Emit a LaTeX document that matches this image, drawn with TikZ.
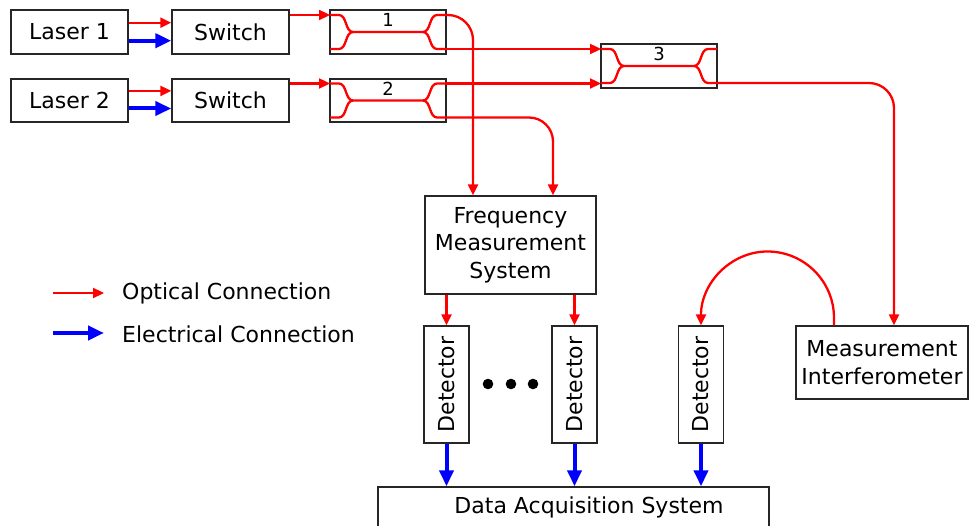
\documentclass[tikz,border=0pt]{standalone}
\usepackage{fontspec}
\usepackage{graphicx}
\setmainfont{DejaVu Sans}
\usetikzlibrary{arrows.meta,calc}
\begin{document}
\begin{tikzpicture}[x=1pt,y=-1pt,
  box/.style={draw=black!85, line width=1.4pt, inner sep=0pt, font=\fontsize{22}{27.5}\selectfont, align=center},
  opt/.style={draw=red, line width=2.3pt, -{Triangle[length=11pt,width=10pt]}},
  optl/.style={draw=red, line width=2.3pt},
  ele/.style={draw=blue, line width=4pt, -{Triangle[length=16pt,width=14pt]}},
  num/.style={font=\fontsize{18}{20}\selectfont, inner sep=0pt},
  leg/.style={font=\fontsize{22}{27.5}\selectfont, inner sep=0pt, anchor=west}]
\fill[white] (0,0) rectangle (970,526);
\useasboundingbox (0,0) rectangle (970,526);

% boxes
\node[box, minimum width=117, minimum height=44] (l1) at (69.5,32) {Laser 1};
\node[box, minimum width=117, minimum height=43] (l2) at (69.5,100.5) {Laser 2};
\node[box, minimum width=117, minimum height=44] (sw1) at (230.5,32) {Switch};
\node[box, minimum width=117, minimum height=43] (sw2) at (230.5,100.5) {Switch};
\node[box, minimum width=116, minimum height=44] (c1) at (388,32) {};
\node[box, minimum width=116, minimum height=43] (c2) at (388,100.5) {};
\node[box, minimum width=116, minimum height=44] (c3) at (659,66) {};
\node[num] (n1) at ($(c1.north)+(0,11)$) {1};
\node[num] (n2) at ($(c2.north)+(0,11)$) {2};
\node[num] (n3) at ($(c3.north)+(0,11)$) {3};
\node[box, minimum width=171, minimum height=98] (fms) at (510.5,245) {Frequency\\Measurement\\System};
\node[box, minimum width=45, minimum height=117] (d1) at (446.5,384.5) {\rotatebox{90}{Detector}};
\node[box, minimum width=45, minimum height=117] (d2) at (574.5,384.5) {\rotatebox{90}{Detector}};
\node[box, minimum width=45, minimum height=117] (d3) at (701,384.5) {\rotatebox{90}{Detector}};
\node[box, minimum width=172, minimum height=73] (mi) at (882,362.5) {Measurement\\Interferometer};
\node[box, minimum width=391, minimum height=58] (daq) at (573.5,516) {};
\node[leg, anchor=center] (daqt) at (589,507) {Data Acquisition System};

% dots
\foreach \xx in {488,511,533} \fill (\xx,384) circle[radius=5.3pt];

% couplers internal paths
\foreach \c in {c1,c2,c3} {
  \begin{scope}[shift={(\c.center)}]
    \coordinate (\c-lt) at (-58,-17);
    \coordinate (\c-lb) at (-58,17);
    \coordinate (\c-rt) at (58,-17);
    \coordinate (\c-rb) at (58,17);
    \draw[optl] (-58,-17) -- (-49,-17) .. controls (-41,-17) and (-43,0) .. (-35,0) -- (35,0) .. controls (43,0) and (41,-17) .. (49,-17) -- (58,-17);
    \draw[optl] (-58,17) -- (-49,17) .. controls (-41,17) and (-43,0) .. (-35,0);
    \draw[optl] (35,0) .. controls (43,0) and (41,17) .. (49,17) -- (58,17);
  \end{scope}
}

% laser -> switch
\draw[opt] ($(l1.east)+(0,-9.3)$) -- ($(sw1.west)+(0,-9.3)$);
\draw[ele] ($(l1.east)+(0,8.7)$) -- ($(sw1.west)+(0,8.7)$);
\draw[opt] ($(l2.east)+(0,-9.6)$) -- ($(sw2.west)+(0,-9.6)$);
\draw[ele] ($(l2.east)+(0,8)$) -- ($(sw2.west)+(0,8)$);

% switch -> couplers
\draw[opt] (sw1.east |- c1-lt) -- (c1-lt);
\draw[opt] (sw2.east |- c2-lt) -- (c2-lt);

% couplers -> coupler 3
\draw[opt] (c1-rb) -- (c3-lt);
\draw[opt] (c2-rt) -- (c3-lb |- c2-rt);

% couplers -> FMS / MI
\draw[opt, rounded corners=25pt] (c1-rt) -| ($(fms.north)+(-37.5,0)$);
\draw[opt, rounded corners=24pt] (c2-rb) -| ($(fms.north)+(42.5,0)$);
\draw[opt, rounded corners=25pt] (c3-rb) -| ($(mi.north)+(12,0)$);

% FMS -> detectors
\draw[opt] (fms.south -| d1.north) -- (d1.north);
\draw[opt] (fms.south -| d2.north) -- (d2.north);

% detectors -> DAQ
\draw[ele] (d1.south) -- (d1.south |- daq.north);
\draw[ele] (d2.south) -- (d2.south |- daq.north);
\draw[ele] (d3.south) -- (d3.south |- daq.north);

% MI -> detector 3
\coordinate (arcA) at ($(mi.north)+(-48,0)$);
\draw[opt] (arcA) -- (834,318) .. controls (834,281.3) and (804.2,251.5) .. (767.5,251.5) .. controls (730.8,251.5) and (701,283) .. (d3.north);

% legend
\coordinate (lo1) at (53,293);
\coordinate (lo2) at (104,293);
\coordinate (le1) at (53,333);
\coordinate (le2) at (104,333);
\draw[opt] (lo1) -- (lo2);
\draw[ele] (le1) -- (le2);
\node[leg] (lt1) at (122,293) {Optical Connection};
\node[leg] (lt2) at (122,334) {Electrical Connection};
\end{tikzpicture}
\end{document}
